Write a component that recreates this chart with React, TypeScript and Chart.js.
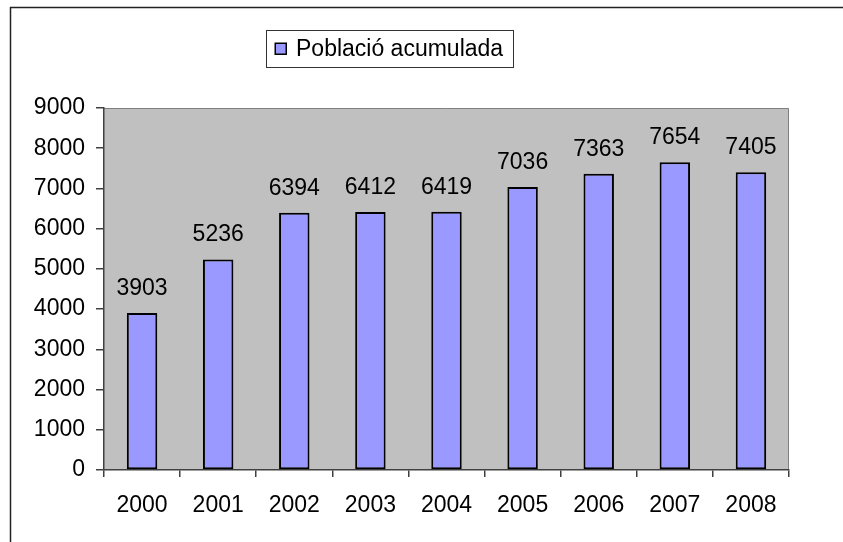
import React, { useEffect, useRef } from "react";
import { Chart, registerables } from "chart.js";

Chart.register(...registerables);

const years: string[] = ["2000", "2001", "2002", "2003", "2004", "2005", "2006", "2007", "2008"];
const population: number[] = [3903, 5236, 6394, 6412, 6419, 7036, 7363, 7654, 7405];
const seriesLabel = "Població acumulada";
const yMin = 0;
const yMax = 9000;
const yStep = 1000;

const FONT = "'Liberation Sans', Arial, Helvetica, sans-serif";
const FONT_SIZE = 23;
const BAR_COLOR = "#9999ff";

const decorPlugin = {
  id: "decor",
  beforeDraw(chart: any) {
    const { ctx, chartArea: a, width, height } = chart;
    ctx.save();
    ctx.fillStyle = "#ffffff";
    ctx.fillRect(0, 0, width, height);
    // outer frame
    ctx.strokeStyle = "#222222";
    ctx.lineWidth = 1.5;
    ctx.beginPath();
    ctx.moveTo(10.5, height);
    ctx.lineTo(10.5, 7.5);
    ctx.lineTo(width, 7.5);
    ctx.stroke();
    // plot background
    ctx.fillStyle = "#c0c0c0";
    ctx.fillRect(a.left, a.top, a.right - a.left, a.bottom - a.top);
    ctx.strokeStyle = "#808080";
    ctx.lineWidth = 1;
    ctx.beginPath();
    ctx.moveTo(a.left, a.top + 0.5);
    ctx.lineTo(a.right - 0.5, a.top + 0.5);
    ctx.lineTo(a.right - 0.5, a.bottom);
    ctx.stroke();
    // legend
    ctx.fillStyle = "#ffffff";
    ctx.fillRect(266, 30, 248, 38);
    ctx.strokeStyle = "#333333";
    ctx.lineWidth = 1;
    ctx.strokeRect(266.5, 30.5, 247, 37);
    ctx.fillStyle = BAR_COLOR;
    ctx.fillRect(275, 43, 11, 11);
    ctx.strokeStyle = "#000000";
    ctx.lineWidth = 1.5;
    ctx.strokeRect(275.25, 43.25, 11, 11);
    ctx.fillStyle = "#000000";
    ctx.font = `${FONT_SIZE}px ${FONT}`;
    ctx.textAlign = "left";
    ctx.textBaseline = "alphabetic";
    ctx.fillText(seriesLabel, 296, 56);
    ctx.restore();
  },
  afterDatasetsDraw(chart: any) {
    const { ctx } = chart;
    const meta = chart.getDatasetMeta(0);
    ctx.save();
    ctx.fillStyle = "#000000";
    ctx.font = `${FONT_SIZE}px ${FONT}`;
    ctx.textAlign = "center";
    ctx.textBaseline = "alphabetic";
    meta.data.forEach((bar: any, i: number) => {
      ctx.fillText(String(population[i]), bar.x, bar.y - 18);
    });
    ctx.restore();
  },
};

export default function App() {
  const canvasRef = useRef<HTMLCanvasElement | null>(null);

  useEffect(() => {
    if (!canvasRef.current) return;
    const chart = new Chart(canvasRef.current, {
      type: "bar",
      data: {
        labels: years,
        datasets: [
          {
            label: seriesLabel,
            data: population,
            backgroundColor: BAR_COLOR,
            borderColor: "#000000",
            borderWidth: 2,
            borderSkipped: false,
            categoryPercentage: 0.8,
            barPercentage: 0.5,
          },
        ],
      },
      options: {
        responsive: false,
        animation: false,
        devicePixelRatio: 1,
        layout: { padding: { left: 0, top: 108, right: 54, bottom: 0 } },
        plugins: {
          legend: { display: false },
          tooltip: { enabled: false },
          title: { display: false },
        },
        scales: {
          x: {
            grid: {
              display: true,
              drawOnChartArea: false,
              drawTicks: true,
              tickLength: 7,
              color: "#404040",
              lineWidth: 1.5,
            },
            border: { display: true, color: "#404040", width: 1.5 },
            ticks: {
              color: "#000000",
              font: { family: FONT, size: FONT_SIZE },
              padding: 15,
              maxRotation: 0,
              autoSkip: false,
            },
            afterFit(scale: any) {
              scale.height = 72;
            },
          },
          y: {
            min: yMin,
            max: yMax,
            grid: {
              display: true,
              drawOnChartArea: false,
              drawTicks: true,
              tickLength: 8,
              color: "#404040",
              lineWidth: 1.5,
            },
            border: { display: true, color: "#404040", width: 1.5 },
            ticks: {
              stepSize: yStep,
              color: "#000000",
              font: { family: FONT, size: FONT_SIZE },
              padding: 11,
              callback: (v: any) => String(v),
            },
            afterFit(scale: any) {
              scale.width = 104;
            },
          },
        },
      },
      plugins: [decorPlugin],
    });
    return () => chart.destroy();
  }, []);

  return (
    <div style={{ position: "fixed", left: 0, top: 0, width: 843, height: 542, background: "#fff" }}>
      <canvas ref={canvasRef} width={843} height={542} style={{ display: "block" }} />
    </div>
  );
}
